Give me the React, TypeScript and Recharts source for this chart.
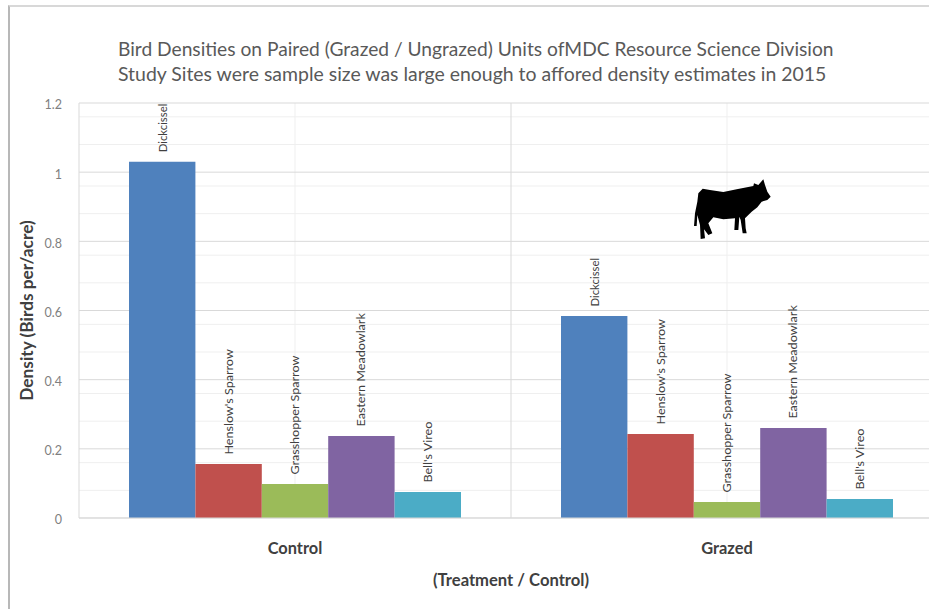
import React from 'react';
import { BarChart, Bar, XAxis, YAxis, CartesianGrid, LabelList } from 'recharts';

const treatments = ['Control', 'Grazed'];
const dickcissel = [1.03, 0.584];
const henslows = [0.156, 0.243];
const grasshopper = [0.098, 0.046];
const meadowlark = [0.237, 0.26];
const bellsVireo = [0.075, 0.055];

const majorTicks = [0, 0.2, 0.4, 0.6, 0.8, 1, 1.2];
const minorTicks = [
  0.04, 0.08, 0.12, 0.16, 0.24, 0.28, 0.32, 0.36, 0.44, 0.48, 0.52, 0.56,
  0.64, 0.68, 0.72, 0.76, 0.84, 0.88, 0.92, 0.96, 1.04, 1.08, 1.12, 1.16,
];

const species = [
  { name: 'Dickcissel', values: dickcissel, color: '#4F81BD' },
  { name: "Henslow's Sparrow", values: henslows, color: '#C0504D' },
  { name: 'Grasshopper Sparrow', values: grasshopper, color: '#9BBB59' },
  { name: 'Eastern Meadowlark', values: meadowlark, color: '#8064A2' },
  { name: "Bell's Vireo", values: bellsVireo, color: '#4BACC6' },
];

const data = treatments.map((treatment, i) => {
  const row: any = { treatment };
  species.forEach((s) => {
    row[s.name] = s.values[i];
  });
  return row;
});

const FONT = 'Lato, "Open Sans", sans-serif';

const speciesLabel = (name: string) => (props: any) => {
  const x = props.x + props.width / 2;
  const y = props.y - 9.5;
  const stretch = name === 'Dickcissel' ? 1.08 : 1.2;
  return (
    <text
      transform={`translate(${x} ${y}) rotate(-90) scale(${stretch} 1)`}
      dominantBaseline="central"
      fontFamily={FONT}
      fontSize={10.5}
      fill="#404040"
    >
      {name}
    </text>
  );
};

const Cow = () => (
  <svg
    width={100}
    height={75}
    viewBox="0 0 300 225"
    style={{ position: 'absolute', left: 680, top: 170 }}
  >
    <path
      fill="#000"
      d="M42 168 L45 130 L52 95 L55 70 L68 56 L90 60 L130 66 L170 58 L220 48 L222 40 L235 45 L250 28 L255 45 L262 65 L272 80 L262 90 L245 95 L232 112 L215 125 L205 135 L195 145 L197 175 L200 190 L188 190 L182 150 L178 140 L175 180 L163 180 L165 145 L130 148 L100 142 L85 160 L97 190 L85 195 L72 178 L75 205 L62 207 L60 165 L52 135 L50 168 Z"
    />
  </svg>
);

export default function App() {
  return (
    <div style={{ position: 'absolute', left: 0, top: 0, width: 929, height: 609, overflow: 'hidden', background: '#fff' }}>
      <div style={{ position: 'absolute', left: 8, top: 5, width: 921, height: 604, borderTop: '2px solid #d8d8d8', borderLeft: '2px solid #b8b8b8', boxSizing: 'border-box' }} />
      <BarChart
        width={950}
        height={609}
        data={data}
        margin={{ top: 103, right: 7, bottom: 0, left: 0 }}
        barGap={0}
        barSize={66.4}
        style={{ position: 'absolute', left: 0, top: 0 }}
      >
        <text x={118} y={56} fontFamily={FONT} fontSize={19.2} fill="#595959">
          Bird Densities on Paired (Grazed / Ungrazed) Units ofMDC Resource Science Division
        </text>
        <text x={118} y={81} fontFamily={FONT} fontSize={19.45} fill="#595959">
          Study Sites were sample size was large enough to affored density estimates in 2015
        </text>
        <CartesianGrid
          stroke="#efefef"
          horizontalValues={minorTicks}
          verticalCoordinatesGenerator={({ offset }: any) => [
            offset.left + offset.width * 0.25,
            offset.left + offset.width * 0.75,
          ]}
        />
        <CartesianGrid
          stroke="#d9d9d9"
          horizontalValues={majorTicks}
          verticalCoordinatesGenerator={({ offset }: any) => [
            offset.left,
            offset.left + offset.width * 0.5,
          ]}
        />
        <XAxis
          dataKey="treatment"
          axisLine={{ stroke: '#d9d9d9' }}
          tickLine={false}
          height={91}
          tickMargin={18}
          tick={{ fontFamily: FONT, fontSize: 16.4, fontWeight: 700, fill: '#404040' }}
          label={{ value: '(Treatment / Control)', position: 'insideBottom', offset: 23, fontFamily: FONT, fontSize: 16.6, fontWeight: 700, fill: '#404040' }}
        />
        <YAxis
          domain={[0, 1.2]}
          ticks={majorTicks}
          width={79}
          axisLine={false}
          tickLine={false}
          tickMargin={11}
          tick={{ fontFamily: FONT, fontSize: 12.5, fill: '#7f7f7f', dy: 2 }}
          label={{ value: 'Density (Birds per/acre)', angle: -90, position: 'insideLeft', offset: 27, fontFamily: FONT, fontSize: 17.3, fontWeight: 700, fill: '#404040', style: { textAnchor: 'middle' } }}
        />
        {species.map((s) => (
          <Bar key={s.name} dataKey={s.name} fill={s.color} isAnimationActive={false}>
            <LabelList content={speciesLabel(s.name)} />
          </Bar>
        ))}
      </BarChart>
      <Cow />
    </div>
  );
}
